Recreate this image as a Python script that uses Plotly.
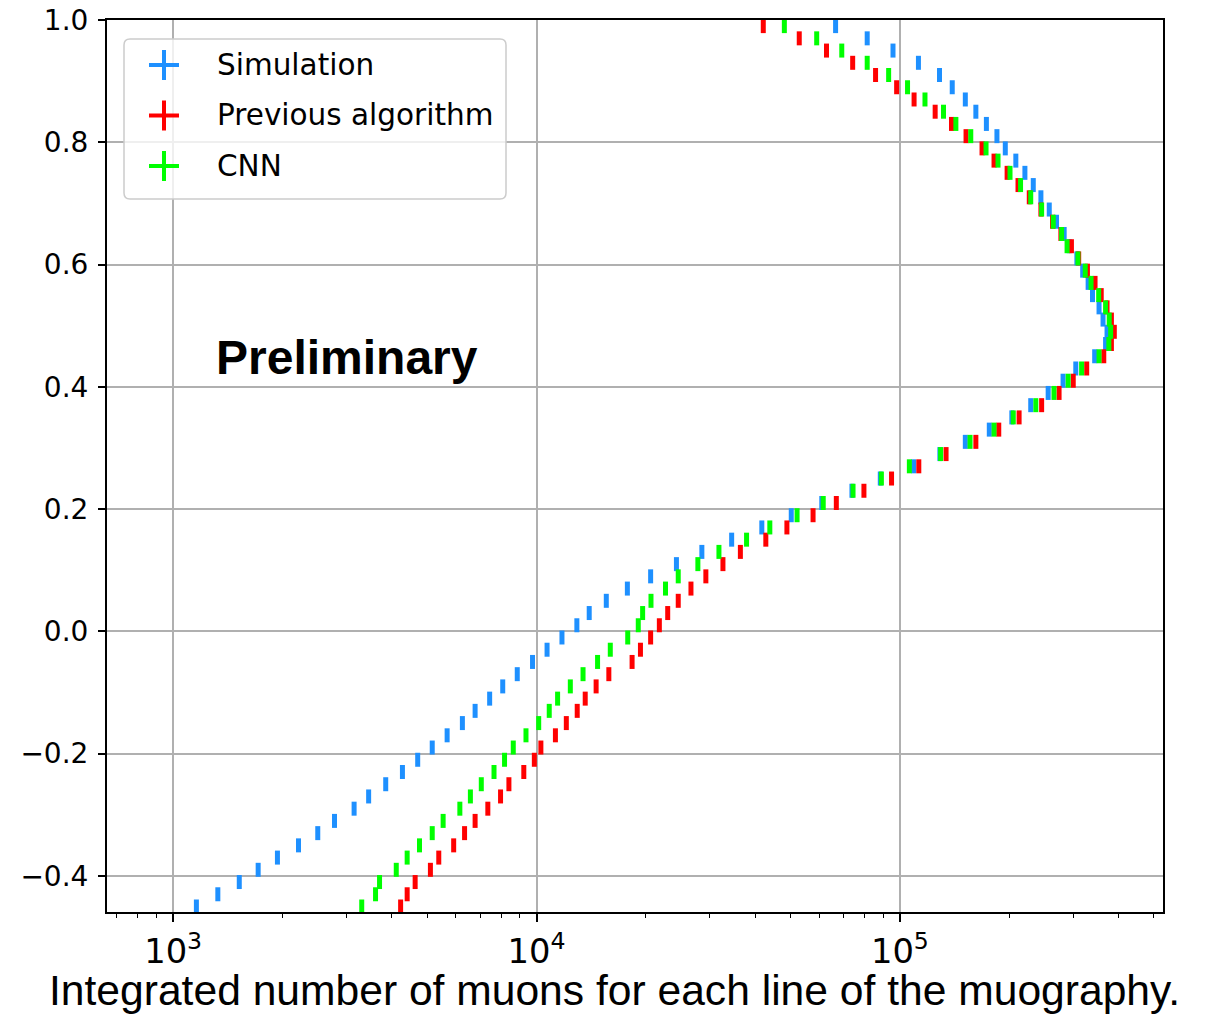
import plotly.graph_objects as go

# Centre of each muography line (vertical coordinate)
line_y = [-0.45, -0.43, -0.41, -0.39, -0.37, -0.35, -0.33, -0.31, -0.29, -0.27,
          -0.25, -0.23, -0.21, -0.19, -0.17, -0.15, -0.13, -0.11, -0.09, -0.07,
          -0.05, -0.03, -0.01, 0.01, 0.03, 0.05, 0.07, 0.09, 0.11, 0.13,
          0.15, 0.17, 0.19, 0.21, 0.23, 0.25, 0.27, 0.29, 0.31, 0.33,
          0.35, 0.37, 0.39, 0.41, 0.43, 0.45, 0.47, 0.49, 0.51, 0.53,
          0.55, 0.57, 0.59, 0.61, 0.63, 0.65, 0.67, 0.69, 0.71, 0.73,
          0.75, 0.77, 0.79, 0.81, 0.83, 0.85, 0.87, 0.89, 0.91, 0.93,
          0.95, 0.97, 0.99]

# log10 of the integrated muon count per line
simulation_log10 = [3.064, 3.123, 3.182, 3.234, 3.287, 3.345, 3.398, 3.444, 3.498, 3.538,
                    3.585, 3.631, 3.673, 3.713, 3.754, 3.796, 3.831, 3.871, 3.907, 3.947,
                    3.989, 4.029, 4.070, 4.111, 4.145, 4.192, 4.250, 4.314, 4.385, 4.455,
                    4.537, 4.620, 4.701, 4.785, 4.868, 4.946, 5.038, 5.110, 5.180, 5.246,
                    5.308, 5.360, 5.408, 5.449, 5.484, 5.536, 5.566, 5.570, 5.559, 5.548,
                    5.530, 5.518, 5.503, 5.487, 5.466, 5.452, 5.431, 5.411, 5.388, 5.367,
                    5.344, 5.319, 5.290, 5.267, 5.238, 5.209, 5.180, 5.144, 5.109, 5.051,
                    4.981, 4.910, 4.823]

previous_log10 = [3.626, 3.644, 3.666, 3.708, 3.731, 3.772, 3.802, 3.831, 3.866, 3.901,
                  3.924, 3.965, 3.994, 4.012, 4.052, 4.082, 4.112, 4.134, 4.164, 4.199,
                  4.263, 4.286, 4.314, 4.338, 4.361, 4.390, 4.425, 4.466, 4.513, 4.561,
                  4.631, 4.689, 4.761, 4.825, 4.901, 4.977, 5.052, 5.127, 5.209, 5.272,
                  5.328, 5.390, 5.438, 5.477, 5.514, 5.561, 5.582, 5.590, 5.582, 5.570,
                  5.554, 5.537, 5.516, 5.492, 5.472, 5.443, 5.420, 5.388, 5.356, 5.325,
                  5.295, 5.259, 5.226, 5.182, 5.142, 5.097, 5.039, 4.991, 4.933, 4.870,
                  4.798, 4.723, 4.624]

cnn_log10 = [3.519, 3.557, 3.568, 3.614, 3.644, 3.678, 3.713, 3.743, 3.789, 3.818,
             3.848, 3.883, 3.912, 3.936, 3.971, 4.006, 4.035, 4.058, 4.093, 4.128,
             4.168, 4.203, 4.251, 4.280, 4.292, 4.315, 4.355, 4.390, 4.444, 4.502,
             4.578, 4.642, 4.717, 4.789, 4.871, 4.949, 5.026, 5.112, 5.193, 5.259,
             5.312, 5.374, 5.424, 5.463, 5.500, 5.548, 5.575, 5.580, 5.576, 5.566,
             5.547, 5.526, 5.510, 5.490, 5.460, 5.445, 5.422, 5.390, 5.360, 5.332,
             5.303, 5.270, 5.237, 5.195, 5.154, 5.120, 5.069, 5.021, 4.969, 4.910,
             4.840, 4.771, 4.682]

series_names = ["Simulation", "Previous algorithm", "CNN"]
series_colors = ["#1E90FF", "#FF0000", "#00FF00"]
series_values = [simulation_log10, previous_log10, cnn_log10]

W, H = 1205, 1015
L, R, T, B = 107, 42, 20, 103
PW, PH = W - L - R, H - T - B


def px(x):
    return (x - L) / PW


def py(y):
    return (H - B - y) / PH


fig = go.Figure()
for name, color, vals in zip(series_names, series_colors, series_values):
    fig.add_trace(go.Scatter(
        x=[10 ** v for v in vals], y=line_y, mode="markers", name=name,
        showlegend=False,
        marker=dict(symbol="line-ns", size=10, color=color,
                    line=dict(width=5, color=color)),
    ))

shapes = []
# legend frame with rounded corners
x0, x1, y0, y1, r = 124, 506, 39, 199, 6
path = (f"M {px(x0 + r)} {py(y0)} L {px(x1 - r)} {py(y0)} Q {px(x1)} {py(y0)} {px(x1)} {py(y0 + r)} "
        f"L {px(x1)} {py(y1 - r)} Q {px(x1)} {py(y1)} {px(x1 - r)} {py(y1)} "
        f"L {px(x0 + r)} {py(y1)} Q {px(x0)} {py(y1)} {px(x0)} {py(y1 - r)} "
        f"L {px(x0)} {py(y0 + r)} Q {px(x0)} {py(y0)} {px(x0 + r)} {py(y0)} Z")
shapes.append(dict(type="path", xref="paper", yref="paper", path=path,
                   fillcolor="rgba(255,255,255,0.8)",
                   line=dict(color="#cccccc", width=1.5), layer="above"))
annotations = []
for i, (name, color) in enumerate(zip(series_names, series_colors)):
    cy = 65 + i * 50.5
    cx = 164
    shapes.append(dict(type="line", xref="paper", yref="paper",
                       x0=px(cx - 15), x1=px(cx + 15), y0=py(cy), y1=py(cy),
                       line=dict(color=color, width=4), layer="above"))
    shapes.append(dict(type="line", xref="paper", yref="paper",
                       x0=px(cx), x1=px(cx), y0=py(cy - 15), y1=py(cy + 15),
                       line=dict(color=color, width=4), layer="above"))
    annotations.append(dict(text=name, xref="paper", yref="paper",
                            x=px(215), y=py(cy), xanchor="left", yanchor="middle",
                            showarrow=False,
                            font=dict(family="DejaVu Sans", size=29.5, color="#000000")))

annotations.append(dict(text="Preliminary", xref="paper", yref="paper",
                        x=px(214), y=py(357), xanchor="left", yanchor="middle",
                        showarrow=False,
                        font=dict(family="Liberation Sans", size=48, color="#000000",
                                  weight="bold")))
annotations.append(dict(text="Integrated number of muons for each line of the muography.",
                        xref="paper", yref="paper", x=px(614), y=py(990),
                        xanchor="center", yanchor="middle", showarrow=False,
                        font=dict(family="Liberation Sans", size=42.6, color="#000000")))

fig.update_layout(
    width=W, height=H,
    margin=dict(l=L, r=R, t=T, b=B),
    paper_bgcolor="white", plot_bgcolor="white",
    showlegend=False,
    shapes=shapes, annotations=annotations,
    font=dict(family="DejaVu Sans", size=28, color="#000000"),
)
fig.update_xaxes(
    type="log", range=[2.818, 5.724], dtick=1, exponentformat="power",
    automargin=False,
    showgrid=True, gridcolor="#b0b0b0", gridwidth=2,
    showline=True, linecolor="black", linewidth=2, mirror=True,
    ticks="outside", ticklen=8, tickwidth=1.5, tickcolor="black",
    ticklabelstandoff=2,
    tickfont=dict(family="DejaVu Sans", size=27, color="#000000"),
    minor=dict(ticks="outside", ticklen=4, tickwidth=1.2, tickcolor="black",
               dtick="D1", showgrid=False),
    zeroline=False,
)
fig.update_yaxes(
    range=[-0.459, 1.0], tick0=0, dtick=0.2, tickformat=".1f",
    automargin=False,
    showgrid=True, gridcolor="#b0b0b0", gridwidth=2,
    showline=True, linecolor="black", linewidth=2, mirror=True,
    ticks="outside", ticklen=7, tickwidth=1.5, tickcolor="black",
    ticklabelstandoff=4,
    tickfont=dict(family="DejaVu Sans", size=28, color="#000000"),
    zeroline=False,
)

fig.write_html("out.html")
